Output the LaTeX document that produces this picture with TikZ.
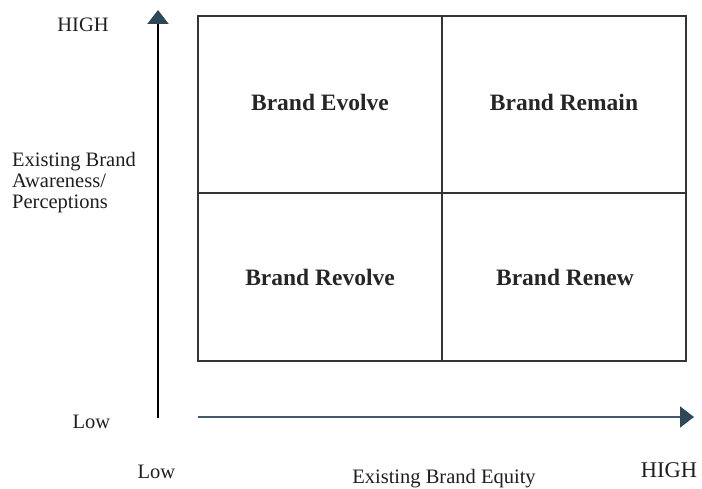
\documentclass[tikz,border=0pt]{standalone}
\usepackage{fontspec}
\setmainfont{Liberation Serif}
\usetikzlibrary{arrows.meta}
\definecolor{arrowc}{HTML}{2F4858}
\definecolor{hline}{HTML}{44596A}
\begin{document}
\begin{tikzpicture}[x=1pt,y=-1pt,
  lbl/.style={font=\fontsize{20.5}{21.3}\selectfont, text=black!88, inner sep=0pt},
  quad/.style={font=\fontsize{23.5}{26}\selectfont\bfseries, text=black!85, inner sep=0pt},
  boxline/.style={draw=black!80, line width=1.3pt},
  tip/.style={-{Triangle[length=14pt,width=21pt,fill=arrowc,color=arrowc]}}]
\useasboundingbox (0,0) rectangle (702,489);
% grid
\draw[boxline] (198,16) rectangle (686,361);
\coordinate (mt) at (442,16);
\coordinate (mb) at (442,361);
\coordinate (ml) at (198,193);
\coordinate (mr) at (686,193);
\draw[boxline] (mt) -- (mb);
\draw[boxline] (ml) -- (mr);
% axes
\coordinate (vb) at (158,418);
\coordinate (vt) at (158,10);
\draw[line width=2.2pt, black, tip] (vb) -- (vt);
\coordinate (hl) at (198,417);
\coordinate (hr) at (694,417);
\draw[line width=1.8pt, hline, tip] (hl) -- (hr);
% quadrant labels
\node[quad] (q1) at (320,102.5) {Brand Evolve};
\node[quad] (q2) at (564,102.5) {Brand Remain};
\node[quad] (q3) at (320,277.5) {Brand Revolve};
\node[quad] (q4) at (565,277.5) {Brand Renew};
% axis labels
\node[lbl] (yh) at (83,24.5) {HIGH};
\node[lbl, align=left, anchor=base west] (yl) at (12,209) {Existing Brand\\Awareness/\\Perceptions};
\node[lbl] (ylow) at (91.5,421.5) {Low};
\node[lbl] (xlow) at (156.5,471.5) {Low};
\node[lbl, anchor=base] (xl) at (444,483) {Existing Brand Equity};
\node[lbl, font=\fontsize{22.5}{24}\selectfont] (xh) at (669,470) {HIGH};
\end{tikzpicture}
\end{document}
